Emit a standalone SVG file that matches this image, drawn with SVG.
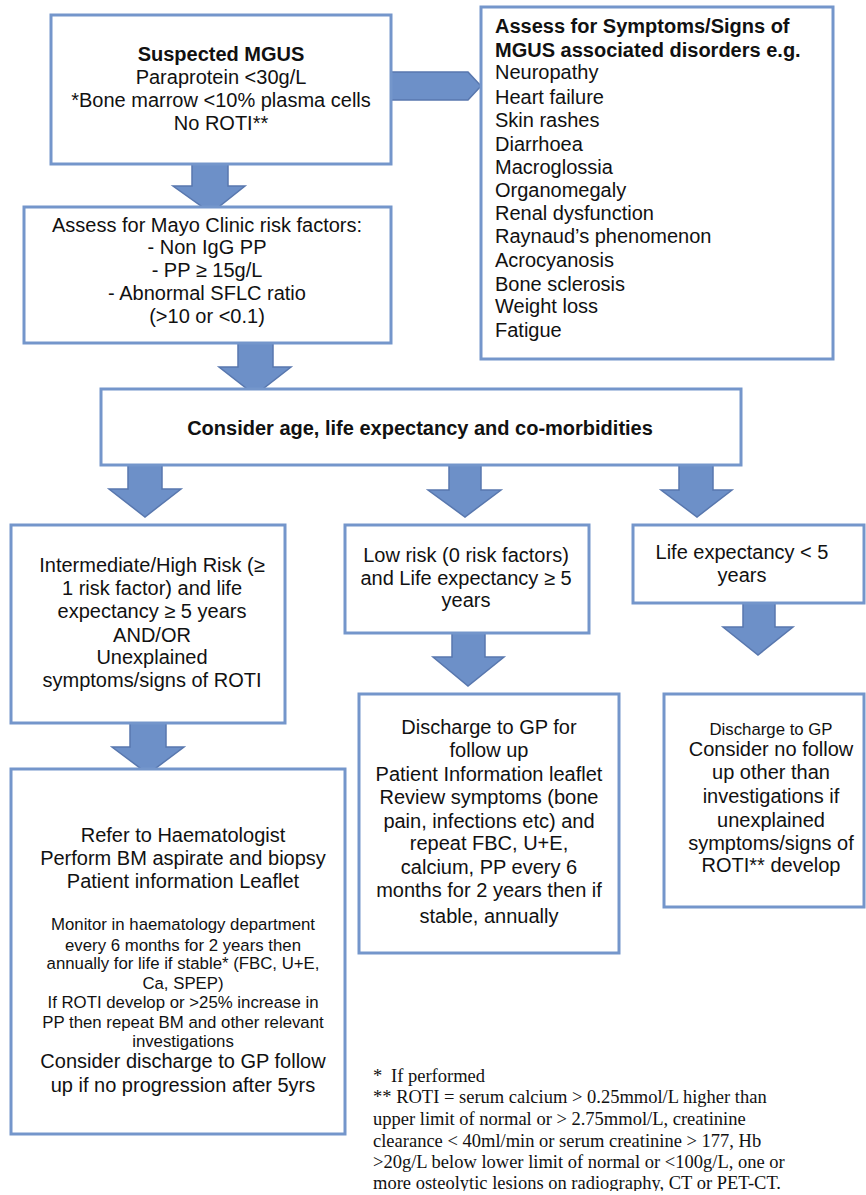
<svg xmlns="http://www.w3.org/2000/svg" width="866" height="1195" viewBox="0 0 866 1195">
<style>
.box{fill:#fff;stroke:#7496cb;stroke-width:3}
.arr{fill:#6d90c8;stroke:#5877ae;stroke-width:1.5;stroke-linejoin:miter}
text{font-family:"Liberation Sans",Arial,sans-serif;font-size:20px;fill:#111}
.c{text-anchor:middle}
.b{font-weight:bold}
.s{font-size:16.8px}
.fn{font-family:"Liberation Serif","Times New Roman",serif;font-size:18.5px}
</style>
<defs>
<clipPath id="fnclip"><rect x="0" y="1000" width="866" height="191"/></clipPath>
</defs>
<rect width="866" height="1195" fill="#fff"/>
<g id="connectors">
<polygon class="arr" points="192,162 228,162 228,186 245,186 211,213 173,186 192,186"/>
<polygon class="arr" points="391,72 468,72 481,86 468,100 391,100"/>
<polygon class="arr" points="238,343 273,343 273,367 291,367 255,395 219,367 238,367"/>
<polygon class="arr" points="128,465 162,465 162,489 181,489 145,517 109,489 128,489"/>
<polygon class="arr" points="449,465 481,465 481,490 501,490 465,517 428,490 449,490"/>
<polygon class="arr" points="679,465 713,465 713,490 732,490 697,517 661,490 679,490"/>
<polygon class="arr" points="130,723 166,723 166,747 184,747 148,774 112,747 130,747"/>
<polygon class="arr" points="452,633 485,633 485,657 504,657 468,686 433,657 452,657"/>
<polygon class="arr" points="743,603 775,603 775,627 793,627 758,655 723,627 743,627"/>
</g>
<g id="suspected">
<rect class="box" x="51" y="15" width="340" height="149"/>
<text class="c b" x="221" y="61">Suspected MGUS</text>
<text class="c" x="221" y="84">Paraprotein &lt;30g/L</text>
<text class="c" x="221" y="107">*Bone marrow &lt;10% plasma cells</text>
<text class="c" x="221" y="130">No ROTI**</text>
</g>
<g id="symptoms">
<rect class="box" x="481" y="7" width="352" height="352"/>
<text class="b" x="495" y="33">Assess for Symptoms/Signs of</text>
<text class="b" x="495" y="57">MGUS associated disorders e.g.</text>
<text x="495" y="79">Neuropathy</text>
<text x="495" y="104">Heart failure</text>
<text x="495" y="127">Skin rashes</text>
<text x="495" y="151">Diarrhoea</text>
<text x="495" y="174">Macroglossia</text>
<text x="495" y="197">Organomegaly</text>
<text x="495" y="220">Renal dysfunction</text>
<text x="495" y="243">Raynaud’s phenomenon</text>
<text x="495" y="267">Acrocyanosis</text>
<text x="495" y="291">Bone sclerosis</text>
<text x="495" y="313">Weight loss</text>
<text x="495" y="337">Fatigue</text>
</g>
<g id="mayo">
<rect class="box" x="24" y="207" width="367" height="136"/>
<text class="c" x="207" y="232">Assess for Mayo Clinic risk factors:</text>
<text class="c" x="207" y="254">- Non IgG PP</text>
<text class="c" x="207" y="277">- PP ≥ 15g/L</text>
<text class="c" x="207" y="300">- Abnormal SFLC ratio</text>
<text class="c" x="207" y="323">(&gt;10 or &lt;0.1)</text>
</g>
<g id="consider">
<rect class="box" x="101" y="389" width="640" height="76"/>
<text class="c b" x="420" y="435">Consider age, life expectancy and co-morbidities</text>
</g>
<g id="highrisk">
<rect class="box" x="11" y="525" width="274" height="198"/>
<text class="c" x="152" y="572">Intermediate/High Risk (≥</text>
<text class="c" x="152" y="595">1 risk factor) and life</text>
<text class="c" x="152" y="618">expectancy ≥ 5 years</text>
<text class="c" x="152" y="642">AND/OR</text>
<text class="c" x="152" y="664">Unexplained</text>
<text class="c" x="152" y="687">symptoms/signs of ROTI</text>
</g>
<g id="lowrisk">
<rect class="box" x="345" y="525" width="244" height="108"/>
<text class="c" x="466" y="562">Low risk (0 risk factors)</text>
<text class="c" x="466" y="585">and Life expectancy ≥ 5</text>
<text class="c" x="466" y="607">years</text>
</g>
<g id="shortlife">
<rect class="box" x="633" y="525" width="231" height="78"/>
<text class="c" x="742" y="559">Life expectancy &lt; 5</text>
<text class="c" x="742" y="582">years</text>
</g>
<g id="refer">
<rect class="box" x="11" y="769" width="334" height="365"/>
<text class="c" x="183" y="842">Refer to Haematologist</text>
<text class="c" x="183" y="865">Perform BM aspirate and biopsy</text>
<text class="c" x="183" y="888">Patient information Leaflet</text>
<text class="c s" x="183" y="930">Monitor in haematology department</text>
<text class="c s" x="183" y="951">every 6 months for 2 years then</text>
<text class="c s" x="183" y="969">annually for life if stable* (FBC, U+E,</text>
<text class="c s" x="183" y="989">Ca, SPEP)</text>
<text class="c s" x="183" y="1008">If ROTI develop or &gt;25% increase in</text>
<text class="c s" x="183" y="1028">PP then repeat BM and other relevant</text>
<text class="c s" x="183" y="1047">investigations</text>
<text class="c" x="183" y="1068">Consider discharge to GP follow</text>
<text class="c" x="183" y="1092">up if no progression after 5yrs</text>
</g>
<g id="dischargeLow">
<rect class="box" x="359" y="694" width="260" height="259"/>
<text class="c" x="489" y="734">Discharge to GP for</text>
<text class="c" x="489" y="757">follow up</text>
<text class="c" x="489" y="781">Patient Information leaflet</text>
<text class="c" x="489" y="804">Review symptoms (bone</text>
<text class="c" x="489" y="828">pain, infections etc) and</text>
<text class="c" x="489" y="850">repeat FBC, U+E,</text>
<text class="c" x="489" y="874">calcium, PP every 6</text>
<text class="c" x="489" y="897">months for 2 years then if</text>
<text class="c" x="489" y="923">stable, annually</text>
</g>
<g id="dischargeShort">
<rect class="box" x="664" y="694" width="200" height="213"/>
<text class="c s" x="771" y="735">Discharge to GP</text>
<text class="c" x="771" y="756">Consider no follow</text>
<text class="c" x="771" y="779">up other than</text>
<text class="c" x="771" y="803">investigations if</text>
<text class="c" x="771" y="827">unexplained</text>
<text class="c" x="771" y="850">symptoms/signs of</text>
<text class="c" x="771" y="872">ROTI** develop</text>
</g>
<g id="footnotes" clip-path="url(#fnclip)">
<text class="fn" x="373" y="1082"><tspan>*</tspan><tspan x="391">If performed</tspan></text>
<text class="fn" x="373" y="1103">** ROTI = serum calcium &gt; 0.25mmol/L higher than</text>
<text class="fn" x="373" y="1125">upper limit of normal or &gt; 2.75mmol/L, creatinine</text>
<text class="fn" x="373" y="1147">clearance &lt; 40ml/min or serum creatinine &gt; 177, Hb</text>
<text class="fn" x="373" y="1168">&gt;20g/L below lower limit of normal or &lt;100g/L, one or</text>
<text class="fn" x="373" y="1189">more osteolytic lesions on radiography, CT or PET-CT.</text>
</g>
</svg>
